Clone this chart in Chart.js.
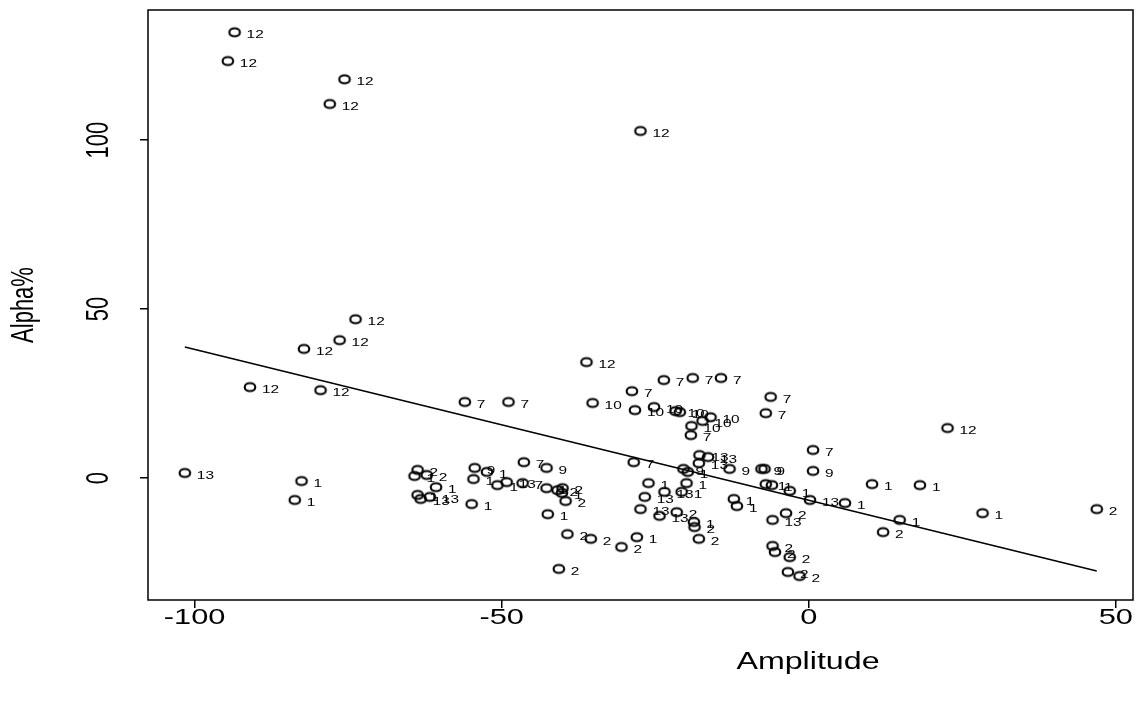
<!DOCTYPE html>
<html>
<head>
<meta charset="utf-8">
<script src="https://cdn.jsdelivr.net/npm/chart.js@4.4.1/dist/chart.umd.min.js"></script>
<style>
  html, body { margin: 0; padding: 0; background: #fff; }
  #wrap { width: 1144px; height: 709px; }
</style>
</head>
<body>
<div id="wrap"><canvas id="myChart" width="1144" height="709"></canvas></div>
<script>
// values, one entry per point
var amplitude = [
  -93.5, -94.6, -75.6, -78.0, -27.4, -73.8, -76.4, -82.2, -91.0, -79.5, -36.2, 22.6,            // 12
  -56.0, -48.9, -23.6, -18.9, -14.3, -28.8, -6.2, -7.0, -19.2, 0.7, -28.5, -46.4, -46.6,        // 7
  -35.2, -28.3, -25.2, -21.7, -21.0, -17.3, -16.0, -19.1,                                       // 10
  -101.6, -63.2, -61.7, -49.2, -17.8, -16.4, -17.9, -23.5, -26.7, -27.4, -24.3, 0.2, -5.9,      // 13
  -54.4, -42.7, -12.9, -7.7, -7.2, 0.7, -20.4,                                                  // 9
  -82.6, -83.7, -60.7, -63.7, -52.4, -54.6, -54.9, -50.7, -42.7, -40.2, -42.5, -28.0, -19.7,
  -19.9, -20.7, -26.1, -18.7, -12.2, -11.7, -7.0, -6.0, -3.1, 5.9, 10.3, 18.1, 14.8, 28.3, -64.2, // 1
  -63.7, -62.2, -40.9, -40.1, -39.6, -39.3, -35.5, -30.5, -40.7, -21.5, -18.6, -17.9, -3.7,
  -5.9, -5.5, -3.1, -3.4, -1.5, 12.1, 46.9                                                      // 2
];
var alpha = [
  131.9, 123.4, 118.0, 110.7, 102.7, 47.0, 40.8, 38.2, 26.9, 26.0, 34.3, 14.8,
  22.5, 22.5, 29.0, 29.6, 29.6, 25.7, 24.0, 19.2, 12.7, 8.3, 4.7, 4.7, -1.5,
  22.2, 20.1, 21.0, 19.8, 19.5, 16.9, 18.0, 15.4,
  1.5, -6.2, -5.6, -1.2, 6.8, 6.2, 4.4, -4.1, -5.6, -9.2, -11.2, -6.5, -12.4,
  3.0, 3.0, 2.7, 2.7, 2.7, 2.1, 2.7,
  -0.9, -6.5, -2.7, -5.0, 1.8, -0.3, -7.7, -2.1, -3.0, -4.4, -10.7, -17.5, 1.8,
  -1.5, -4.1, -1.5, -13.0, -6.2, -8.3, -1.8, -2.1, -3.8, -7.4, -1.8, -2.1, -12.4, -10.4, 0.6,
  2.4, 0.9, -3.6, -3.0, -6.8, -16.6, -18.0, -20.4, -26.9, -10.1, -14.5, -18.0, -10.4,
  -20.1, -21.9, -23.4, -27.8, -29.0, -16.0, -9.2
];
var groupCounts = [['12', 12], ['7', 13], ['10', 8], ['13', 13], ['9', 7], ['1', 28], ['2', 20]];
var groups = [];
groupCounts.forEach(function (g) { for (var i = 0; i < g[1]; i++) groups.push(g[0]); });

// fitted line, read at its two ends
var fitX = [-101.6, 46.9];
var fitY = [38.8, -27.5];

var xTicks = [-100, -50, 0, 50];
var yTicks = [0, 50, 100];
var xTitle = 'Amplitude';
var yTitle = 'Alpha%';

var SX = 1.4; // the picture is stretched sideways
var FONT = '"Liberation Sans", Arial, sans-serif';

// open circle, drawn wider than tall like the picture
function makeRing() {
  var c = document.createElement('canvas');
  c.width = 16; c.height = 13;
  var g = c.getContext('2d');
  g.strokeStyle = '#000';
  g.lineWidth = 2.1;
  g.beginPath();
  g.ellipse(8, 6.5, 5.3, 4, 0, 0, Math.PI * 2);
  g.stroke();
  return c;
}

function stretchText(ctx, txt, x, y, rot) {
  ctx.save();
  ctx.translate(x, y);
  ctx.scale(SX, 1);
  if (rot) ctx.rotate(rot);
  ctx.fillText(txt, 0, 0);
  ctx.restore();
}

var rPlot = {
  id: 'rPlot',
  afterDatasetsDraw: function (chart) {
    var ctx = chart.ctx;
    var meta = chart.getDatasetMeta(0);
    ctx.save();
    ctx.fillStyle = '#000';
    ctx.font = '11px ' + FONT;
    ctx.textAlign = 'left';
    ctx.textBaseline = 'middle';
    meta.data.forEach(function (pt, i) {
      stretchText(ctx, groups[i], pt.x + 12, pt.y + 3);
    });
    ctx.restore();
  },
  afterDraw: function (chart) {
    var ctx = chart.ctx;
    var a = chart.chartArea;
    var xs = chart.scales.x, ys = chart.scales.y;
    ctx.save();
    ctx.strokeStyle = '#000';
    ctx.lineWidth = 1.5;
    ctx.strokeRect(a.left, a.top, a.right - a.left, a.bottom - a.top);
    ctx.fillStyle = '#000';
    ctx.font = '22px ' + FONT;
    ctx.textAlign = 'center';
    ctx.textBaseline = 'middle';
    xTicks.forEach(function (v) {
      stretchText(ctx, String(v), xs.getPixelForValue(v), 618);
    });
    yTicks.forEach(function (v) {
      stretchText(ctx, String(v), 100, ys.getPixelForValue(v), -Math.PI / 2);
    });
    ctx.font = '23px ' + FONT;
    stretchText(ctx, xTitle, 808, 663);
    ctx.font = '22px ' + FONT;
    stretchText(ctx, yTitle, 25, (a.top + a.bottom) / 2, -Math.PI / 2);
    ctx.restore();
  }
};

var ring = makeRing();
var ctx = document.getElementById('myChart').getContext('2d');
var myChart = new Chart(ctx, {
  type: 'scatter',
  data: {
    datasets: [{
      data: amplitude.map(function (v, i) { return { x: v, y: alpha[i] }; }),
      pointStyle: ring,
      pointRadius: 5,
      pointHoverRadius: 5
    }, {
      type: 'line',
      data: fitX.map(function (v, i) { return { x: v, y: fitY[i] }; }),
      borderColor: '#000',
      borderWidth: 1.5,
      pointRadius: 0,
      fill: false
    }]
  },
  options: {
    responsive: false,
    animation: false,
    events: [],
    layout: { padding: { left: 0, right: 11, top: 10, bottom: 0 } },
    plugins: { legend: { display: false }, tooltip: { enabled: false } },
    scales: {
      x: {
        type: 'linear',
        min: -107.6,
        max: 52.8,
        afterBuildTicks: function (s) { s.ticks = xTicks.map(function (v) { return { value: v }; }); },
        afterFit: function (s) { s.height = 109; },
        ticks: { display: false },
        border: { display: false },
        grid: { drawOnChartArea: false, drawTicks: true, tickLength: 8, color: '#000', lineWidth: 1.5 }
      },
      y: {
        type: 'linear',
        min: -36.1,
        max: 138.5,
        afterBuildTicks: function (s) { s.ticks = yTicks.map(function (v) { return { value: v }; }); },
        afterFit: function (s) { s.width = 148; },
        ticks: { display: false },
        border: { display: false },
        grid: { drawOnChartArea: false, drawTicks: true, tickLength: 8, color: '#000', lineWidth: 1.5 }
      }
    }
  },
  plugins: [rPlot]
});
</script>
</body>
</html>
